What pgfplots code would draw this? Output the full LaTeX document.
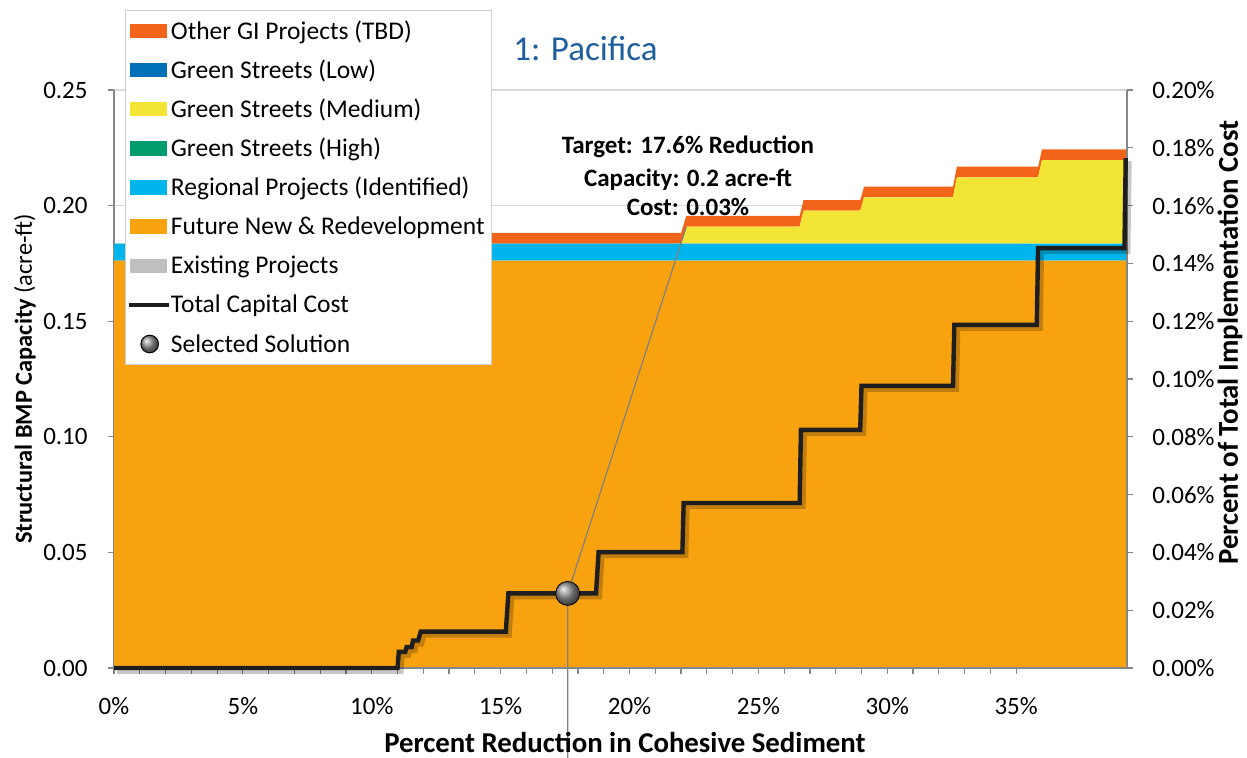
\documentclass[border=0pt]{standalone}
\usepackage{pgfplots}
\pgfplotsset{compat=1.18}
\usepackage{pgfplotstable}
\usepackage{fontspec}
\setmainfont{Carlito}

\definecolor{cFuture}{RGB}{248,162,16}
\definecolor{cReg}{RGB}{0,181,236}
\definecolor{cMed}{RGB}{243,229,53}
\definecolor{cOther}{RGB}{242,100,25}
\definecolor{cLow}{RGB}{0,112,184}
\definecolor{cHigh}{RGB}{0,156,110}
\definecolor{cExist}{RGB}{191,191,191}
\definecolor{cLine}{RGB}{30,30,30}
\definecolor{axisgray}{RGB}{134,134,134}
\definecolor{gridgray}{RGB}{217,217,217}
\definecolor{titleblue}{RGB}{31,94,158}
\definecolor{leadgray}{RGB}{128,128,128}
\definecolor{legborder}{RGB}{205,205,205}

\newcommand\tickfont{\fontsize{12.5}{15}\selectfont}
\newcommand\legfont{\fontsize{12.75}{15}\selectfont}
\newcommand\labfont{\fontsize{14.4}{16}\selectfont}

% stacked capacity (acre-ft)
\pgfplotstableread{
x      fut     reg     med     oth
0      0.1762  0.0074  0       0
10.9   0.1762  0.0074  0       0
11.0   0.1762  0.0074  0       0.0046
22.0   0.1762  0.0074  0       0.0046
22.2   0.1762  0.0074  0.0073  0.0046
26.6   0.1762  0.0074  0.0073  0.0046
26.75  0.1762  0.0074  0.0142  0.0046
28.95  0.1762  0.0074  0.0142  0.0046
29.1   0.1762  0.0074  0.0200  0.0046
32.55  0.1762  0.0074  0.0200  0.0046
32.7   0.1762  0.0074  0.0286  0.0046
35.85  0.1762  0.0074  0.0286  0.0046
36.0   0.1762  0.0074  0.0361  0.0046
39.3   0.1762  0.0074  0.0361  0.0046
}\areadata

% total capital cost (% of total implementation cost)
\pgfplotstableread{
x      c
0      0
11.0   0
11.05  0.0056
11.3   0.0056
11.35  0.0072
11.55  0.0072
11.6   0.0095
11.8   0.0095
11.9   0.0126
15.2   0.0126
15.3   0.0258
18.7   0.0258
18.8   0.0401
22.05  0.0401
22.1   0.0571
26.6   0.0571
26.65  0.0824
28.95  0.0824
29.0   0.0976
32.55  0.0976
32.6   0.1187
35.8   0.1187
35.85  0.1453
39.2   0.1453
39.25  0.1764
}\costdata

\begin{document}
\begin{tikzpicture}
\useasboundingbox (-57pt,-45pt) rectangle (566.5pt,334pt);
\begin{axis}[
  at={(0pt,0pt)}, anchor=south west,
  scale only axis, width=506.5pt, height=289pt,
  xmin=0, xmax=39.3, ymin=0, ymax=0.25,
  axis x line=none, axis y line*=left,
  xtick=\empty,
  ytick={0,0.05,0.10,0.15,0.20,0.25},
  yticklabels={0.00,0.05,0.10,0.15,0.20,0.25},
  ymajorgrids, major grid style={draw=gridgray, line width=0.6pt},
  axis line style={draw=axisgray, line width=0.6pt},
  tick style={draw=axisgray, line width=0.6pt},
  tick align=outside, major tick length=3pt,
  yticklabel style={font=\tickfont, anchor=east, inner sep=0pt, xshift=-10pt},
  ylabel={\textbf{Structural BMP Capacity} (acre-ft)},
  every axis y label/.style={at={(axis description cs:-0.0879,0.5)}, rotate=90, anchor=center, inner sep=0pt, font=\fontsize{12.2}{14}\selectfont},
  stack plots=y,
]
\addplot[fill=cFuture, draw=none] table[x=x,y=fut]{\areadata} \closedcycle;
\addplot[fill=cReg, draw=none] table[x=x,y=reg]{\areadata} \closedcycle;
\addplot[fill=cMed, draw=none] table[x=x,y=med]{\areadata} \closedcycle;
\addplot[fill=cOther, draw=none] table[x=x,y=oth]{\areadata} \closedcycle;
\end{axis}

\begin{axis}[
  at={(0pt,0pt)}, anchor=south west,
  scale only axis, width=506.5pt, height=289pt,
  xmin=0, xmax=39.3, ymin=0, ymax=0.2,
  axis x line*=bottom, axis y line*=right,
  xtick={0,5,10,15,20,25,30,35},
  xticklabels={0\%,5\%,10\%,15\%,20\%,25\%,30\%,35\%},
  minor x tick num=4,
  ytick={0,0.02,0.04,0.06,0.08,0.10,0.12,0.14,0.16,0.18,0.20},
  yticklabels={0.00\%,0.02\%,0.04\%,0.06\%,0.08\%,0.10\%,0.12\%,0.14\%,0.16\%,0.18\%,0.20\%},
  axis line style={draw=axisgray, line width=0.6pt},
  tick style={draw=axisgray, line width=0.6pt},
  tick align=outside, major tick length=3pt, minor tick length=3pt,
  xticklabel style={font=\tickfont, anchor=north, inner sep=0pt, yshift=-11.5pt},
  yticklabel style={font=\tickfont, anchor=west, inner sep=0pt, xshift=9.5pt},
  ylabel={Percent of Total Implementation Cost},
  every axis y label/.style={at={(axis description cs:1.1017,0.563)}, rotate=90, anchor=center, inner sep=0pt, font=\labfont\bfseries},
  xlabel={Percent Reduction in Cohesive Sediment},
  every axis x label/.style={at={(axis description cs:0.5044,-0.128)}, anchor=center, inner sep=0pt, font=\labfont\bfseries},
  clip=false,
  legend style={at={(axis description cs:0.01086,1.1384)}, anchor=north west,
    fill=white, draw=legborder, line width=0.5pt,
    font=\legfont, inner xsep=0.5pt, inner ysep=0.5pt, row sep=0pt,
    cells={anchor=west}, nodes={inner xsep=0pt, inner ysep=0pt, text height=13.78pt, text depth=5.78pt}},
  legend cell align=left,
]
\addlegendimage{legend image code/.code={\fill[cOther] (0pt,-3.35pt) rectangle (18pt,3.35pt);}}
\addlegendentry{Other GI Projects (TBD)}
\addlegendimage{legend image code/.code={\fill[cLow] (0pt,-3.35pt) rectangle (18pt,3.35pt);}}
\addlegendentry{Green Streets (Low)}
\addlegendimage{legend image code/.code={\fill[cMed] (0pt,-3.35pt) rectangle (18pt,3.35pt);}}
\addlegendentry{Green Streets (Medium)}
\addlegendimage{legend image code/.code={\fill[cHigh] (0pt,-3.35pt) rectangle (18pt,3.35pt);}}
\addlegendentry{Green Streets (High)}
\addlegendimage{legend image code/.code={\fill[cReg] (0pt,-3.35pt) rectangle (18pt,3.35pt);}}
\addlegendentry{Regional Projects (Identified)}
\addlegendimage{legend image code/.code={\fill[cFuture] (0pt,-3.35pt) rectangle (18pt,3.35pt);}}
\addlegendentry{Future New \& Redevelopment\hspace*{3pt}}
\addlegendimage{legend image code/.code={\fill[cExist] (0pt,-3.35pt) rectangle (18pt,3.35pt);}}
\addlegendentry{Existing Projects}
\addlegendimage{legend image code/.code={\draw[line width=2.2pt, cLine] (-1pt,0pt) -- (19pt,0pt);}}
\addlegendentry{Total Capital Cost}
\addlegendimage{legend image code/.code={\shade[ball color=gray!85] (9.5pt,0pt) circle (4.4pt);}}
\addlegendentry{Selected Solution}

\addplot[forget plot, leadgray, line width=0.6pt] coordinates {(17.6,-0.0311) (17.6,0.0258) (22.2,0.1526)};
\addplot[forget plot, black, opacity=0.22, line width=3pt, xshift=1.5pt, yshift=-1.5pt] table[x=x,y=c]{\costdata};
\addplot[forget plot, cLine, line width=2.2pt] table[x=x,y=c]{\costdata};
\addplot[forget plot, only marks, mark=ball, mark size=6pt, ball color=gray!85] coordinates {(17.6,0.0258)};

\node[font=\fontsize{17.5}{20}\selectfont, text=titleblue, anchor=base] at (axis description cs:0.4654,1.0507) {1: Pacifica};
\node[font=\tickfont\bfseries, anchor=base] at (axis description cs:0.5666,0.8905) {Target: 17.6\% Reduction};
\node[font=\tickfont\bfseries, anchor=base] at (axis description cs:0.5666,0.8327) {Capacity: 0.2 acre-ft};
\node[font=\tickfont\bfseries, anchor=base] at (axis description cs:0.5666,0.7837) {Cost: 0.03\%};
\end{axis}
\end{tikzpicture}
\end{document}
